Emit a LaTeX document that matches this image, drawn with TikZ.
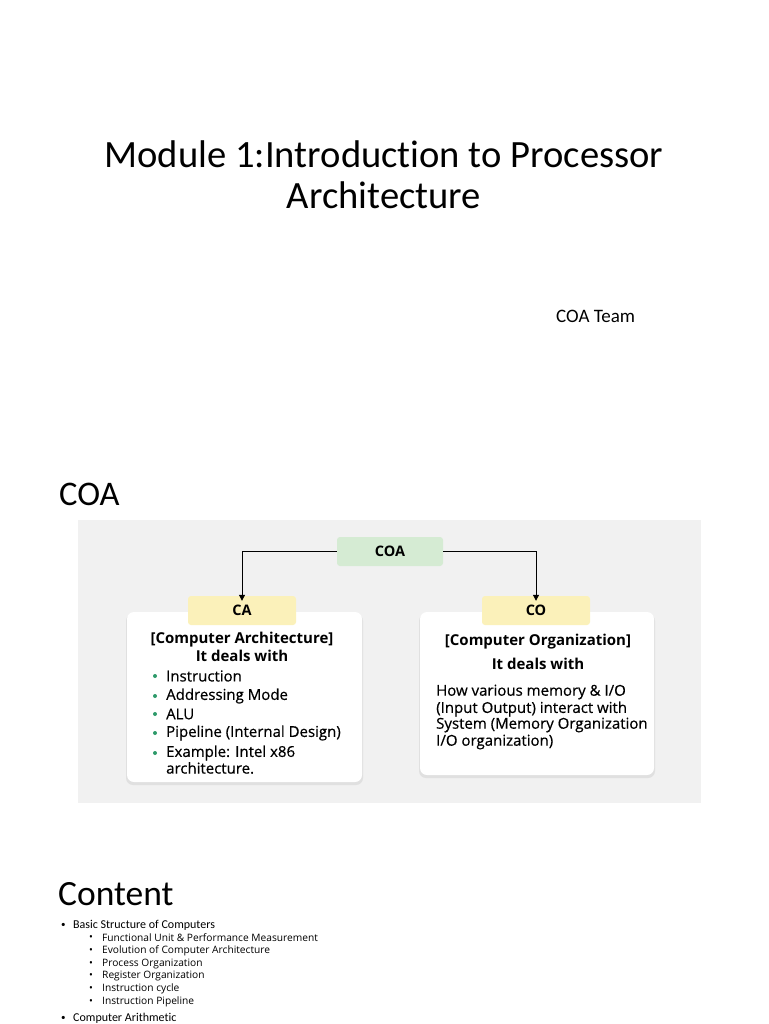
\documentclass[tikz,border=0pt]{standalone}
\usepackage{fontspec}
\setmainfont{Carlito}[Ligatures=NoCommon]
\newfontfamily\diag{Open Sans}
\newfontfamily\diagmed{Open Sans}[FakeBold=0.5]
\usetikzlibrary{arrows.meta}
\definecolor{bggray}{HTML}{F1F1F1}
\definecolor{coagreen}{HTML}{D5EBD3}
\definecolor{hdryellow}{HTML}{FBF1BA}
\definecolor{dotgreen}{HTML}{2E9A6A}
\tikzset{
  card/.style={draw=none,fill=white,rounded corners=7pt},
  shadowcard/.style={fill=black!12,rounded corners=7pt},
  tag/.style={fill=hdryellow,rounded corners=3pt,minimum width=108pt,minimum height=29pt,font=\diag\bfseries\fontsize{14.5}{16}\selectfont},
  conn/.style={line width=1pt,-{Triangle[length=6pt,width=6pt]}},
  dtext/.style={font=\diagmed\fontsize{15}{17}\selectfont,anchor=west,inner sep=0pt},
  dbold/.style={font=\diag\bfseries\fontsize{15}{17}\selectfont,inner sep=0pt},
  dot/.style={circle,fill=dotgreen,inner sep=0pt,minimum size=4pt},
  sub/.style={font=\diag\fontsize{10.2}{12}\selectfont,anchor=west,inner sep=0pt},
  top/.style={font=\fontsize{12}{14}\selectfont,anchor=west,inner sep=0pt},
  topdot/.style={font=\fontsize{9}{10}\selectfont,anchor=west,inner sep=0pt},
}
\begin{document}
\begin{tikzpicture}[x=1pt,y=-1pt]
\useasboundingbox (0,0) rectangle (768,1024);
\fill[white] (0,0) rectangle (768,1024);
% title
\node[font=\fontsize{38.6}{41}\selectfont,align=center,inner sep=0pt] (title) at (384,175) {Module 1:Introduction to Processor\\Architecture};
\node[font=\fontsize{19}{22}\selectfont,anchor=west,inner sep=0pt] (team) at (556,316) {COA Team};
\node[font=\fontsize{34.5}{40}\selectfont,anchor=west,inner sep=0pt] (coah) at (59,494) {COA};
% diagram background
\fill[bggray] (78,520) rectangle (701,803);
% cards
\fill[shadowcard] (126,614) rectangle (363,785);
\fill[card] (127,612) rectangle (362,782);
\fill[shadowcard] (419,614) rectangle (655,778);
\fill[card] (420,612) rectangle (654,775);
\node[fill=coagreen,rounded corners=3pt,minimum width=106pt,minimum height=29pt,font=\diag\bfseries\fontsize{14.5}{16}\selectfont] (coa) at (390,551.5) {COA};
\node[tag] (ca) at (242,610.5) {CA};
\node[tag] (co) at (536,610.5) {CO};
\draw[conn] (coa.west) -| ([yshift=-5pt]ca.north);
\draw[conn] (coa.east) -| ([yshift=-5pt]co.north);
% CA content
\node[dbold] (cat1) at (242,640) {[Computer Architecture]};
\node[dbold] (cat2) at (242,656) {It deals with};
\foreach \y/\t [count=\i] in {676/Instruction,696/Addressing Mode,714/ALU,733/Pipeline (Internal Design),753/Example: Intel x86}{
  \node[dot] (cad\i) at (155,\y) {};
  \node[dtext] (cai\i) at (166,\y) {\t};
}
\node[dtext] (cai6) at (166,768) {architecture.};
% CO content
\node[dbold] (cot1) at (538,642) {[Computer Organization]};
\node[dbold] (cot2) at (538,664) {It deals with};
\node[dtext] (cob1) at (436,692) {How various memory \& I/O};
\node[dtext] (cob2) at (436,709) {(Input Output) interact with};
\node[dtext] (cob3) at (436,725) {System (Memory Organization};
\node[dtext] (cob4) at (436,742) {I/O organization)};
% Content
\node[font=\fontsize{35.5}{40}\selectfont,anchor=west,inner sep=0pt] (cont) at (58,894) {Content};
\node[topdot] (b0) at (61,925) {•};
\node[top] (t0) at (73,925) {Basic Structure of Computers};
\foreach \y/\t [count=\i] in {938/Functional Unit \& Performance Measurement,951/Evolution of Computer Architecture,964/Process Organization,976/Register Organization,989/Instruction cycle,1002/Instruction Pipeline}{
  \node[sub] (sb\i) at (89,\y) {•};
  \node[sub] (st\i) at (102,\y) {\t};
}
\node[topdot] (b1) at (61,1018) {•};
\node[top] (t1) at (73,1018) {Computer Arithmetic};
\end{tikzpicture}
\end{document}
